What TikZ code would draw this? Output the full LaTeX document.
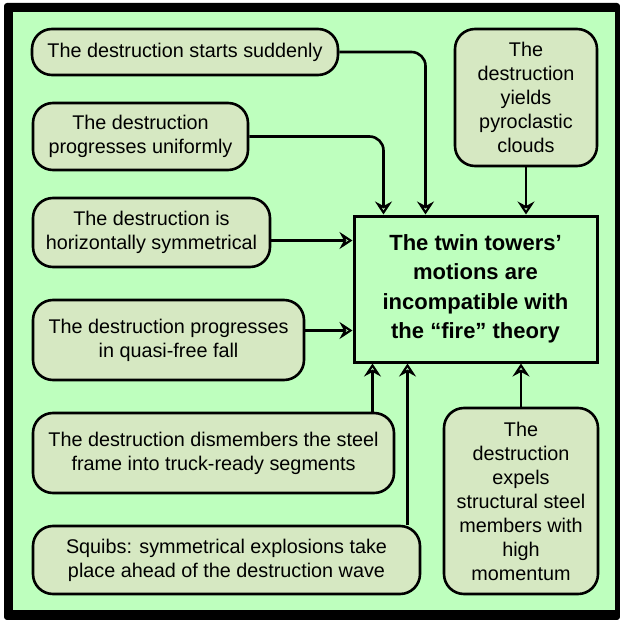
\documentclass[tikz,border=0pt]{standalone}
\usepackage{fontspec}
\setmainfont{Liberation Sans}
\usetikzlibrary{arrows.meta}
\definecolor{pagegreen}{RGB}{190,255,190}
\definecolor{boxgreen}{RGB}{214,232,194}

\begin{document}
\begin{tikzpicture}[x=1pt, y=-1pt,
    cause/.style={draw, line width=2.6pt, fill=boxgreen, rounded corners=20pt, align=center,
      inner sep=0pt, font=\fontsize{19.8}{24}\selectfont},
    claim/.style={draw, line width=3pt, fill=pagegreen, align=center, inner sep=0pt,
      font=\fontsize{22}{29.5}\selectfont\bfseries},
    tipV/.tip={Stealth[open, fill=pagegreen, length=13pt, width=17pt, inset=4.5pt, line width=2.6pt]},
    feed/.style={line width=2.6pt, rounded corners=14pt, -tipV}]
  \useasboundingbox (0,0) rectangle (620,620);
  \fill[rounded corners=3pt] (4,3) rectangle (620,620);
  \fill[pagegreen] (13,12) rectangle (615,610);
  % the claim
  \node[claim, minimum width=243pt, minimum height=146pt] (twin) at (475.5,289)
    {The twin towers’\\motions are\\incompatible with\\the “fire” theory};
  % the observations
  \node[cause, minimum width=306pt, minimum height=46pt] (sudden) at (185,52)
    {The destruction starts suddenly};
  \node[cause, minimum width=215pt, minimum height=67pt] (uniform) at (140.5,136.5)
    {The destruction\\progresses uniformly};
  \node[cause, minimum width=237pt, minimum height=69pt] (hsym) at (151.5,232.5)
    {The destruction is\\horizontally symmetrical};
  \node[cause, minimum width=271pt, minimum height=80pt] (freefall) at (168.5,340)
    {The destruction progresses\\in quasi-free fall};
  \node[cause, minimum width=361pt, minimum height=80pt] (dismember) at (213.5,453)
    {The destruction dismembers the steel\\frame into truck-ready segments};
  \node[cause, minimum width=387pt, minimum height=68pt] (squibs) at (226.5,560)
    {Squibs: symmetrical explosions take\\place ahead of the destruction wave};
  \node[cause, minimum width=142pt, minimum height=137pt] (pyro) at (526,97.5)
    {The\\destruction\\yields\\pyroclastic\\clouds};
  \node[cause, minimum width=154pt, minimum height=186pt] (expels) at (521,501)
    {The\\destruction\\expels\\structural steel\\members with\\high\\momentum};
  % entry points on the claim
  \coordinate (in1) at ([xshift=73pt]twin.north west);
  \coordinate (in2) at ([xshift=31pt]twin.north west);
  \coordinate (in3) at ([yshift=-26pt]twin.north west);
  \coordinate (in4) at ([yshift=-116pt]twin.north west);
  \coordinate (in5) at ([xshift=20pt]twin.south west);
  \coordinate (in6) at ([xshift=55pt]twin.south west);
  \draw[feed] (sudden.east) -| (in1);
  \draw[feed] (uniform.east) -| (in2);
  \draw[feed] (pyro.south) -- (pyro.south |- twin.north);
  \draw[feed] (hsym.east |- in3) -- (in3);
  \draw[feed] (freefall.east |- in4) -- (in4);
  \draw[feed] (dismember.north -| in5) -- (in5);
  \draw[feed] (squibs.north -| in6) -- (in6);
  \draw[feed] (expels.north) -- (expels.north |- twin.south);
\end{tikzpicture}
\end{document}
